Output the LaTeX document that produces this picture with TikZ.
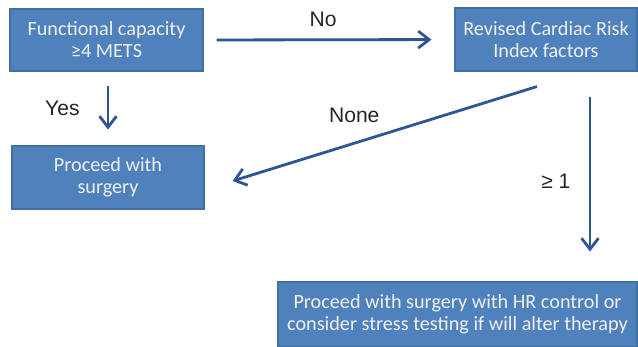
\documentclass[tikz,border=0pt]{standalone}
\usepackage{fontspec}
\setmainfont{Carlito}
\newfontfamily\lblfont{Liberation Sans}
\usepackage{xcolor}
\usepackage{tikz}
\usetikzlibrary{
    positioning,
    arrows.meta,
    calc
}
\definecolor{boxfill}{HTML}{4F81BD}
\definecolor{boxline}{HTML}{41719C}
\definecolor{arrblue}{HTML}{2F5597}

\begin{document}
\begin{tikzpicture}[font=\fontsize{11.5}{12.5}\selectfont,
  box/.style={draw=boxline, fill=boxfill, line width=0.6pt, text=white!94!black,
              text centered, align=center, inner sep=2pt},
  arr/.style={-{Straight Barb[length=0.22cm, width=0.34cm, line width=1.6pt]},
              line width=1.6pt, draw=arrblue},
  lbl/.style={font=\lblfont\fontsize{12}{14}\selectfont, text=black!85}]

  \useasboundingbox (0,0) rectangle (12.76,-6.92);

  % Boxes
  \node[box, minimum width=3.86cm, minimum height=1.24cm] (FC) at (2.13,-0.8)
    {Functional capacity\\≥4 METS};
  \node[box, minimum width=3.84cm, minimum height=1.26cm] (PS) at (2.16,-3.55)
    {Proceed with\\surgery};
  \node[box, minimum width=3.64cm, minimum height=1.26cm] (RC) at (10.92,-0.79)
    {Revised Cardiac Risk\\Index factors};
  \node[box, minimum width=7.18cm, minimum height=1.30cm] (HR) at (9.15,-6.29)
    {Proceed with surgery with HR control or\\consider stress testing if will alter therapy};

  % Arrows with their labels
  \draw[arr, shorten <=0.26cm, shorten >=0.46cm] (FC.east) to
    node[lbl, above=3.5pt, xshift=-0.12cm]{No} (RC.west);
  \draw[arr, shorten <=0.28cm, shorten >=0.32cm] ([xshift=0.03cm]FC.south) to
    node[lbl, left=12pt]{Yes} ([xshift=0.03cm]FC.south |- PS.north);
  \draw[arr] ($(RC.south)+(-0.18,-0.3)$) to
    node[lbl, xshift=-0.61cm, yshift=0.37cm]{None} ($(PS.east)+(0.56,-0.07)$);
  \draw[arr] ($(RC.south)+(0.88,-0.5)$) to
    node[lbl, left=7pt, yshift=-0.14cm]{≥ 1} ($(RC.south |- HR.north)+(0.88,0.6)$);
\end{tikzpicture}
\end{document}
